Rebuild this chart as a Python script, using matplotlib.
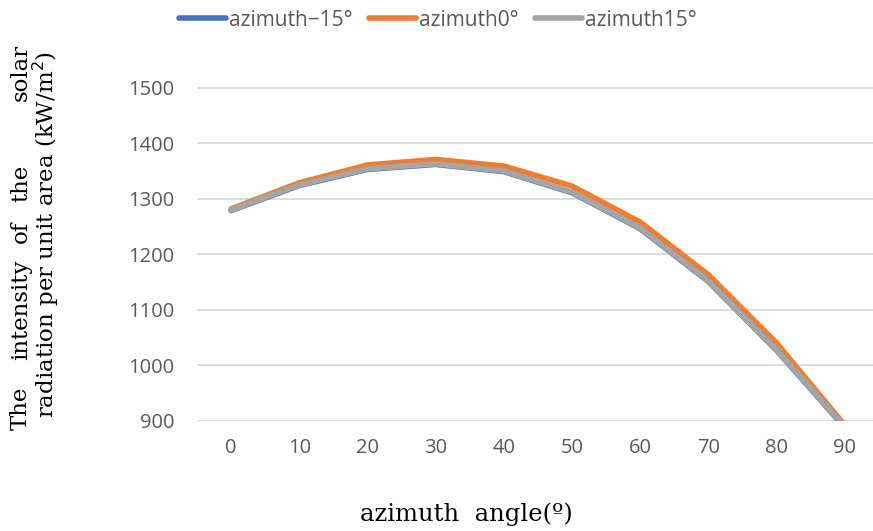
import matplotlib.pyplot as plt

angles = [0, 10, 20, 30, 40, 50, 60, 70, 80, 90]
az_m15 = [1279, 1324, 1353, 1362, 1349, 1311, 1246, 1151, 1027, 888]
az_0 = [1282, 1329, 1361, 1371, 1359, 1323, 1258, 1163, 1040, 892]
az_15 = [1280, 1325, 1354, 1363, 1350, 1312, 1247, 1152, 1028, 889]

y_ticks = [900, 1000, 1100, 1200, 1300, 1400, 1500]

W, H = 873, 531
fig = plt.figure(figsize=(W / 100, H / 100), dpi=100)
ax = fig.add_axes([197 / W, 1 - 421 / H, (879 - 197) / W, (421 - 60) / H])

ax.plot(angles, az_m15, color='#4472c4', lw=4, label='azimuth\u221215\u00b0', solid_capstyle='round', zorder=3)
ax.plot(angles, az_0, color='#ed7d31', lw=4, label='azimuth0\u00b0', solid_capstyle='round', zorder=3)
ax.plot(angles, az_15, color='#a5a5a5', lw=4, label='azimuth15\u00b0', solid_capstyle='round', zorder=4)

ax.set_xlim(-5, 95)
ax.set_ylim(900, 1550)
ax.set_xticks(angles)
ax.set_yticks(y_ticks)
ax.grid(axis='y', color='#d9d9d9', lw=1.3)
ax.set_axisbelow(True)
for s in ax.spines.values():
    s.set_visible(False)
ax.tick_params(length=0, labelsize=14.5, colors='#595959')
ax.tick_params(axis='x', pad=12)
ax.tick_params(axis='y', pad=16)
for t in ax.get_xticklabels() + ax.get_yticklabels():
    t.set_family('Open Sans')

leg = fig.legend(loc='center', bbox_to_anchor=(438 / W, 1 - 20 / H), ncol=3, frameon=False,
                 prop={'family': 'Open Sans', 'size': 15}, handlelength=2.25, handletextpad=0.15,
                 columnspacing=0.8)
for t in leg.get_texts():
    t.set_color('#595959')

serif = 'DejaVu Serif'
fig.text(466 / W, 1 - 514 / H, 'azimuth  angle(\u00ba)', ha='center', va='center',
         family=serif, fontsize=17.5)

fig.text(46 / W, 1 - 235 / H, 'radiation per unit area (kW/m$^2$)', rotation=90,
         ha='center', va='center', family=serif, fontsize=16.5)

# justified first line of the y label
words = [('The', 408), ('intensity', 310), ('of', 232), ('the', 183), ('solar', 72)]
for w, yc in words:
    fig.text(21 / W, 1 - yc / H, w, rotation=90, ha='center', va='center',
             family=serif, fontsize=16.5)

fig.savefig('out.png', dpi=100)
